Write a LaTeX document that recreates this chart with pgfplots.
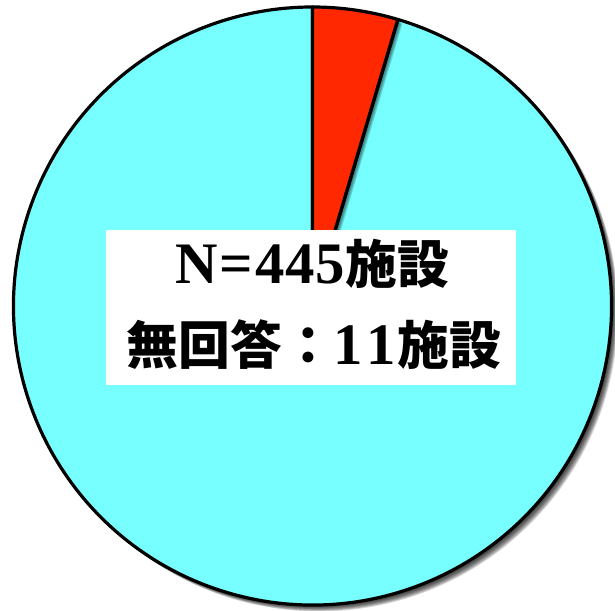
\documentclass[border=0pt]{standalone}
\usepackage{pgfplots}
\pgfplotsset{compat=1.18}
\usepackage{fontspec}
\setmainfont{Liberation Serif}
\newfontfamily\cjk{Noto Sans CJK JP}
\definecolor{piecyan}{RGB}{119,255,255}
\definecolor{piered}{RGB}{255,40,0}
% data: facilities answering (cyan) and the small red group
\def\vRed{20}
\def\vCyan{414}
\pgfmathsetmacro\aRed{360*\vRed/(\vRed+\vCyan)}
\pgfmathsetmacro\eRed{90-\aRed}
\def\cx{312.5}
\def\cy{305}
\def\R{299bp}
\begin{document}
\begin{tikzpicture}
\begin{axis}[
  scale only axis, width=615bp, height=611bp,
  xmin=0, xmax=615, ymin=0, ymax=611,
  hide axis, clip=false,
]
\coordinate (BL) at (axis cs:0,0);
\coordinate (TR) at (axis cs:615,611);
% soft shadow of the whole pie
\pgfplotsinvokeforeach{1,...,8}{
  \fill[black, opacity=0.17] (axis cs:{\cx+0.8*#1},{\cy-0.8*#1}) circle[radius=\R];
}
% cyan slice
\filldraw[fill=piecyan, draw=black, line width=3.2bp, line join=round]
  (axis cs:\cx,\cy) -- ++(\eRed:\R) arc[start angle=\eRed, end angle=-270, radius=\R] -- cycle;
% shadow of red slice
\pgfplotsinvokeforeach{1,...,5}{
  \fill[black, opacity=0.17] (axis cs:{\cx+0.9*#1},{\cy-0.9*#1}) -- ++(90:\R) arc[start angle=90, end angle=\eRed, radius=\R] -- cycle;
}
% red slice
\filldraw[fill=piered, draw=black, line width=3.2bp, line join=round]
  (axis cs:\cx,\cy) -- ++(90:\R) arc[start angle=90, end angle=\eRed, radius=\R] -- cycle;
% label box
\fill[white] (axis cs:106,226) rectangle (axis cs:516,381);
\node[inner sep=0pt, anchor=base] at (axis cs:312,327)
  {\bfseries\fontsize{59}{62}\selectfont N{\kern2bp}={\kern2bp}4{\kern1bp}4{\kern1bp}5{\cjk\bfseries\fontsize{52}{60}\selectfont 施設}};
\node[inner sep=0pt, anchor=base] at (axis cs:314,246)
  {{\cjk\bfseries\fontsize{52}{60}\selectfont 無回答：}\bfseries\fontsize{59}{62}\selectfont 1{\kern3bp}1{\kern2bp}{\cjk\bfseries\fontsize{52}{60}\selectfont 施設}};
\end{axis}
\pgfresetboundingbox
\useasboundingbox (BL) rectangle (TR);
\end{tikzpicture}
\end{document}
